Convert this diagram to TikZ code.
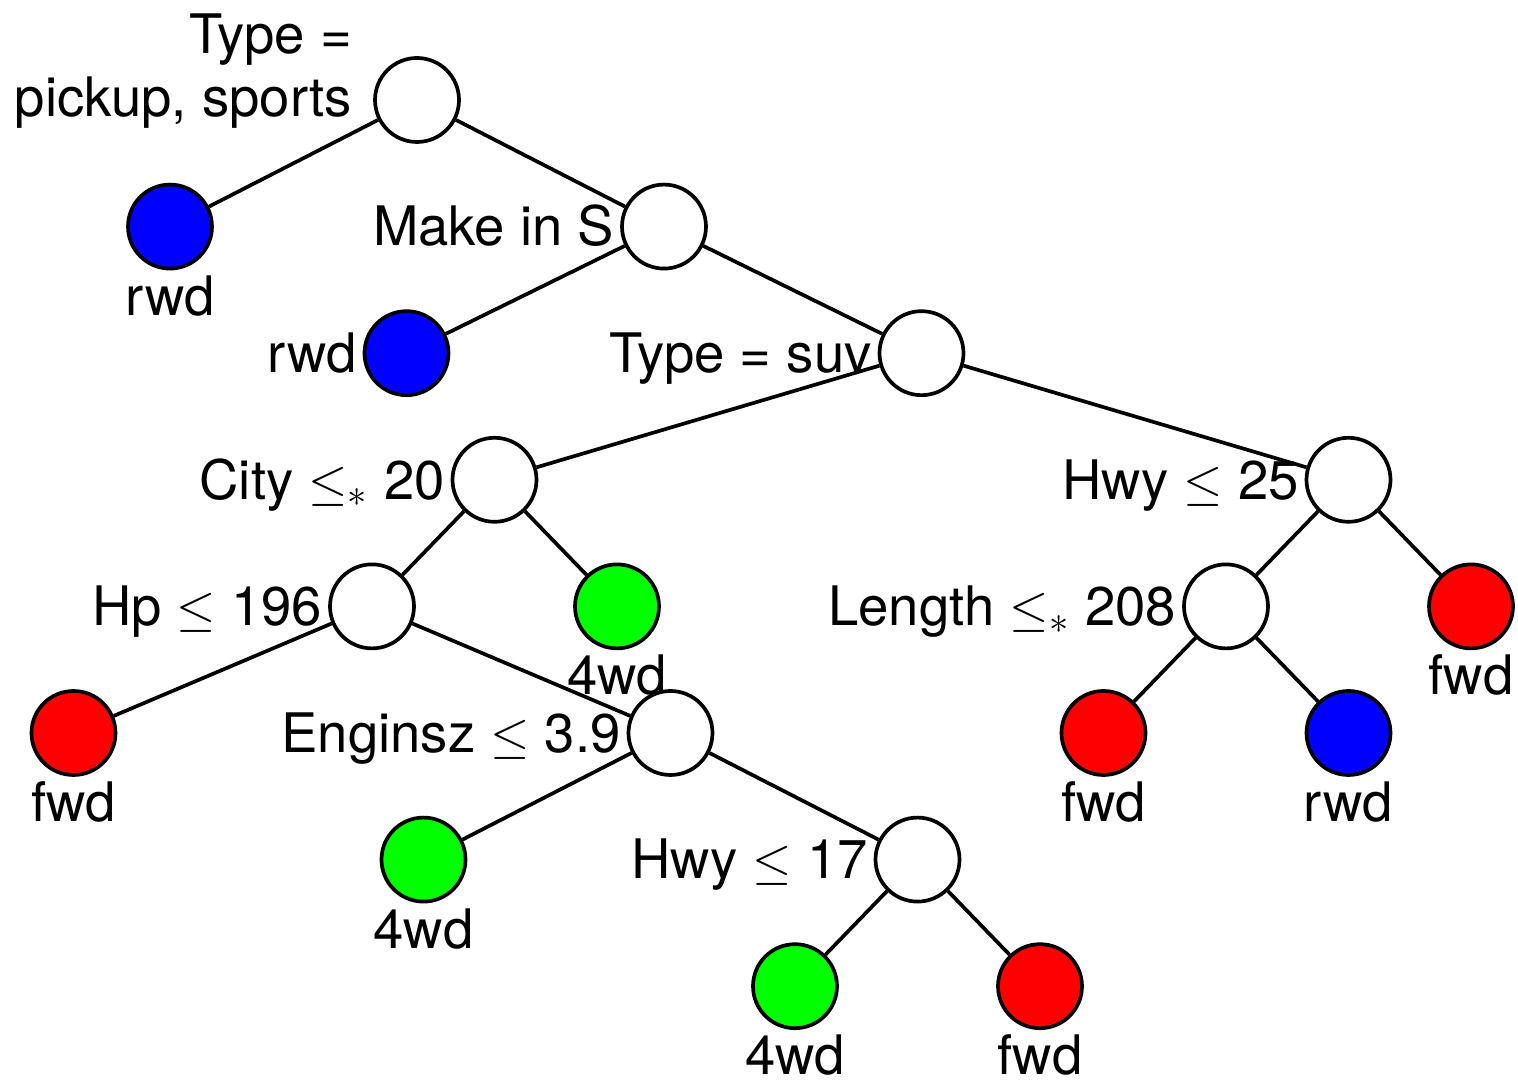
\documentclass[tikz,border=0pt]{standalone}
\usepackage{amsmath}
\usepackage{fontspec}
\setmainfont{TeX Gyre Heros}
\usetikzlibrary{positioning}

\begin{document}
\begin{tikzpicture}[on grid, font=\fontsize{15.5}{18}\selectfont]

% Fix the page size
\useasboundingbox (0,0) rectangle (15.18,10.80);

% Define styles for splits and leafs
\tikzstyle{split} = [circle, draw, line width=1.05pt, fill=white, minimum size=0.84cm, inner sep=0pt]
\tikzstyle{leaf} = [split]
\tikzstyle{every label} = [inner sep=1.5pt, label distance=0pt, text height=11pt, text depth=0pt]
\tikzstyle{edge} = [line width=1.05pt]

% Root and the splits below it
\node[split] (root) at (4.17,9.80)
	[label={[align=right, text height=, text depth=, xshift=-0.15cm, yshift=0.29cm]left:Type =\\pickup, sports}] {};
\node[leaf, fill=blue, label=below:rwd] (rwdA) [below left=1.266cm and 2.47cm of root] {};
\node[split, label=left:Make in S] (make) [below right=1.266cm and 2.47cm of root] {};

\node[leaf, fill=blue, label=left:rwd] (rwdB) [below left=1.266cm and 2.575cm of make] {};
\node[split, label=left:{Type = suv}] (suv) [below right=1.266cm and 2.575cm of make] {};

\node[split, label=left:{City $\leq_*$ 20}] (city) [below left=1.266cm and 4.27cm of suv] {};
\node[split, label=left:{Hwy $\leq$ 25}] (hwyA) [below right=1.266cm and 4.27cm of suv] {};

% Left subtree
\node[split, label=left:{Hp $\leq$ 196}] (hp) [below left=1.266cm and 1.225cm of city] {};
\node[leaf, fill=green, label=below:4wd] (wdA) [below right=1.266cm and 1.225cm of city] {};

\node[leaf, fill=red, label=below:fwd] (fwdB) [below left=1.266cm and 2.985cm of hp] {};
\node[split, label=left:{Enginsz $\leq$ 3.9}] (eng) [below right=1.266cm and 2.985cm of hp] {};

\node[leaf, fill=green, label=below:4wd] (wdB) [below left=1.266cm and 2.47cm of eng] {};
\node[split, label=left:{Hwy $\leq$ 17}] (hwyB) [below right=1.266cm and 2.47cm of eng] {};

\node[leaf, fill=green, label=below:4wd] (wdC) [below left=1.266cm and 1.225cm of hwyB] {};
\node[leaf, fill=red, label=below:fwd] (fwdD) [below right=1.266cm and 1.225cm of hwyB] {};

% Right subtree
\node[split, label=left:{Length $\leq_*$ 208}] (len) [below left=1.266cm and 1.225cm of hwyA] {};
\node[leaf, fill=red, label=below:fwd] (fwdA) [below right=1.266cm and 1.225cm of hwyA] {};

\node[leaf, fill=red, label=below:fwd] (fwdC) [below left=1.266cm and 1.225cm of len] {};
\node[leaf, fill=blue, label=below:rwd] (rwdC) [below right=1.266cm and 1.225cm of len] {};

% Branches
\draw[edge] (root) -- (rwdA);
\draw[edge] (root) -- (make);
\draw[edge] (make) -- (rwdB);
\draw[edge] (make) -- (suv);
\draw[edge] (suv) -- (city);
\draw[edge] (suv) -- (hwyA);
\draw[edge] (city) -- (hp);
\draw[edge] (city) -- (wdA);
\draw[edge] (hp) -- (fwdB);
\draw[edge] (hp) -- (eng);
\draw[edge] (eng) -- (wdB);
\draw[edge] (eng) -- (hwyB);
\draw[edge] (hwyB) -- (wdC);
\draw[edge] (hwyB) -- (fwdD);
\draw[edge] (hwyA) -- (len);
\draw[edge] (hwyA) -- (fwdA);
\draw[edge] (len) -- (fwdC);
\draw[edge] (len) -- (rwdC);

\end{tikzpicture}
\end{document}
